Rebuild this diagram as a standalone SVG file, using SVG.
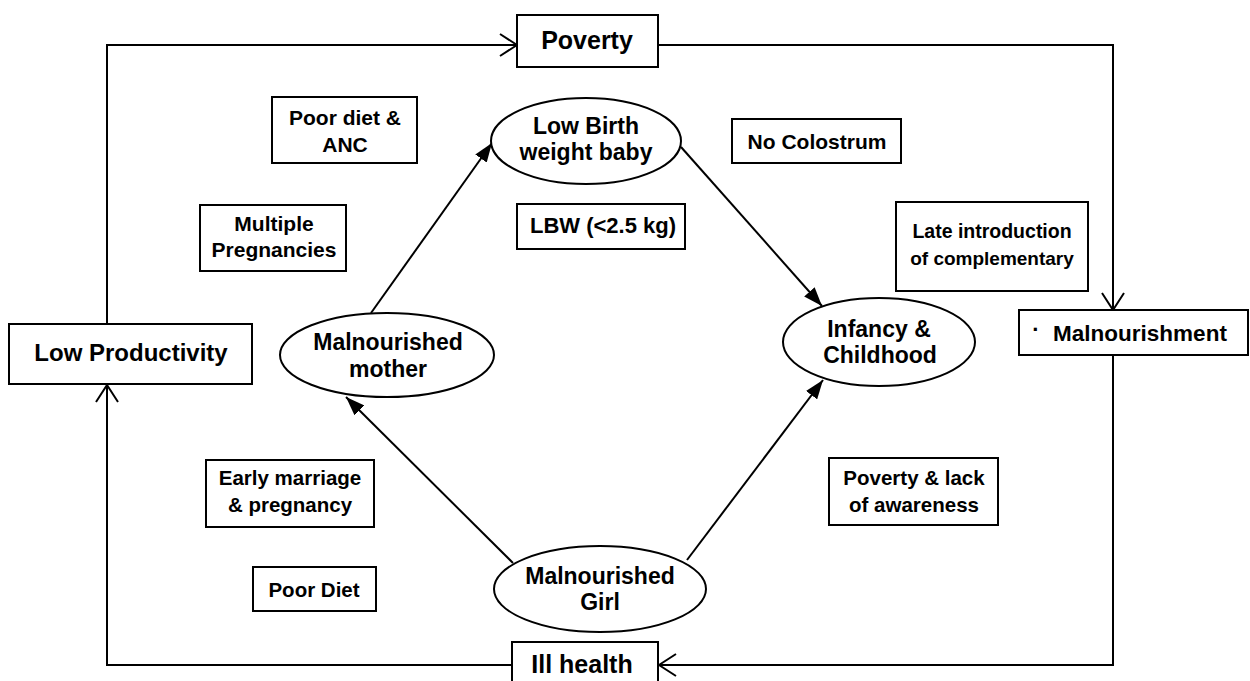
<svg xmlns="http://www.w3.org/2000/svg" width="1250" height="681" viewBox="0 0 1250 681">
<style>
text{font-family:"Liberation Sans",Arial,sans-serif;font-weight:bold;fill:#000;text-anchor:middle}
.box{fill:#fff;stroke:#000;stroke-width:2}
.ell{fill:#fff;stroke:#000;stroke-width:2}
.ln{fill:none;stroke:#000;stroke-width:2}
.s{font-size:21px}
.e{font-size:23px}
.b{font-size:25px}
</style>
<defs>
<marker id="tri" viewBox="0 0 19 14" refX="19" refY="7" markerWidth="19" markerHeight="14" markerUnits="userSpaceOnUse" orient="auto">
<path d="M0,0 L19,7 L0,14 Z" fill="#000"/>
</marker>
<marker id="vee" viewBox="0 0 19 24" refX="18" refY="12" markerWidth="19" markerHeight="24" markerUnits="userSpaceOnUse" orient="auto">
<path d="M1,1 L18,12 L1,23" fill="none" stroke="#000" stroke-width="2"/>
</marker>
</defs>
<g id="connectors">
<path class="ln" d="M107,324 L107,45 L517,45" marker-end="url(#vee)"/>
<path class="ln" d="M658,45 L1113,45 L1113,310" marker-end="url(#vee)"/>
<path class="ln" d="M1113,355 L1113,665 L659,665" marker-end="url(#vee)"/>
<path class="ln" d="M512,665 L107,665 L107,385" marker-end="url(#vee)"/>
<line class="ln" x1="371" y1="313" x2="492" y2="143" marker-end="url(#tri)"/>
<line class="ln" x1="681" y1="147" x2="822" y2="306" marker-end="url(#tri)"/>
<line class="ln" x1="513" y1="563" x2="346" y2="397" marker-end="url(#tri)"/>
<line class="ln" x1="687" y1="560" x2="823" y2="380" marker-end="url(#tri)"/>
</g>
<g id="poverty"><rect class="box" x="517" y="15" width="141" height="52"/><text class="b" x="587" y="49">Poverty</text></g>
<g id="lowprod"><rect class="box" x="9" y="324" width="243" height="60"/><text class="b" x="131" y="361" style="font-size:24px">Low Productivity</text></g>
<g id="malnourishment"><rect class="box" x="1019" y="310" width="229" height="45"/><text x="1036" y="337" style="font-size:22px">·</text><text x="1140" y="341" style="font-size:22.5px">Malnourishment</text></g>
<g id="illhealth"><rect class="box" x="512" y="642" width="146" height="45"/><text class="b" x="582" y="673">Ill health</text></g>
<g id="poordietanc"><rect class="box" x="272" y="97" width="145" height="66"/><text class="s" x="345" y="125">Poor diet &amp;</text><text class="s" x="345" y="152">ANC</text></g>
<g id="multiple"><rect class="box" x="200" y="205" width="146" height="66"/><text class="s" x="274" y="231">Multiple</text><text class="s" x="274" y="257">Pregnancies</text></g>
<g id="lbwbaby"><ellipse class="ell" cx="586" cy="141" rx="95" ry="43"/><text class="e" x="586" y="134">Low Birth</text><text class="e" x="586" y="160">weight baby</text></g>
<g id="lbw"><rect class="box" x="517" y="204" width="168" height="45"/><text class="s" x="603" y="233" style="font-size:22px">LBW (&lt;2.5 kg)</text></g>
<g id="nocolostrum"><rect class="box" x="732" y="119" width="169" height="44"/><text class="s" x="817" y="149">No Colostrum</text></g>
<g id="lateintro"><rect class="box" x="896" y="202" width="192" height="89"/><text x="992" y="238" style="font-size:19.5px">Late introduction</text><text x="992" y="265" style="font-size:19px">of complementary</text></g>
<g id="mother"><ellipse class="ell" cx="387" cy="355" rx="107" ry="42"/><text class="e" x="388" y="350">Malnourished</text><text class="e" x="388" y="377">mother</text></g>
<g id="infancy"><ellipse class="ell" cx="879" cy="342" rx="96" ry="44"/><text class="e" x="879" y="337">Infancy &amp;</text><text class="e" x="880" y="363">Childhood</text></g>
<g id="girl"><ellipse class="ell" cx="600" cy="589" rx="106" ry="43"/><text class="e" x="600" y="584">Malnourished</text><text class="e" x="600" y="610">Girl</text></g>
<g id="earlymarriage"><rect class="box" x="206" y="460" width="168" height="67"/><text x="290" y="485" style="font-size:20.5px">Early marriage</text><text x="290" y="512" style="font-size:20.5px">&amp; pregnancy</text></g>
<g id="poordiet"><rect class="box" x="253" y="567" width="123" height="44"/><text x="314" y="597" style="font-size:20.5px">Poor Diet</text></g>
<g id="povertylack"><rect class="box" x="829" y="458" width="169" height="67"/><text x="914" y="485" style="font-size:20.5px">Poverty &amp; lack</text><text x="914" y="512" style="font-size:20.5px">of awareness</text></g>
</svg>
